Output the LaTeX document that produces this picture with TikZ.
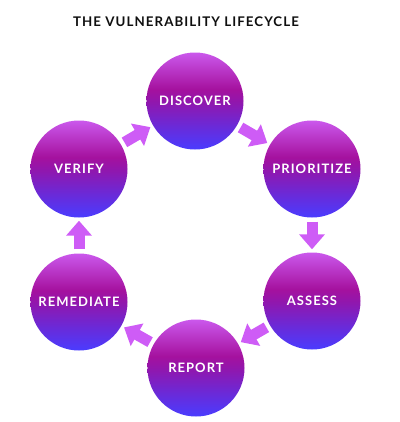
\documentclass[tikz,border=0pt]{standalone}
\usepackage{fontspec}
\usepackage{tikz}
\usetikzlibrary{arrows.meta, calc}
\newfontfamily\lato[LetterSpace=8]{Lato}

\definecolor{stageTop}{RGB}{203,88,236}
\definecolor{stageMid}{RGB}{165,17,158}
\definecolor{stageMidB}{RGB}{146,22,172}
\definecolor{stageLow}{RGB}{106,42,216}
\definecolor{stageBot}{RGB}{74,60,255}
\definecolor{arrowPink}{RGB}{206,92,246}
\definecolor{titleInk}{RGB}{15,15,15}

\pgfdeclareverticalshading{stagefill}{100bp}{color(0bp)=(stageBot); color(25bp)=(stageBot); color(37bp)=(stageLow); color(50bp)=(stageMidB); color(56bp)=(stageMid); color(75bp)=(stageTop); color(100bp)=(stageTop)}

\begin{document}
\begin{tikzpicture}[x=1bp, y=-1bp,
    stage/.style={circle, minimum size=97bp, inner sep=0pt, shading=stagefill,
        text=white, font=\lato\bfseries\fontsize{13bp}{15bp}\selectfont},
    flow/.style={arrowPink, line width=11bp,
        -{Triangle[length=15bp, width=25bp]}, shorten <=4bp, shorten >=3bp}]
    \useasboundingbox (0,0) rectangle (400,422);

    \node[titleInk, font=\lato\bfseries\fontsize{13.3bp}{15bp}\selectfont] (title) at (186, 22) {THE VULNERABILITY LIFECYCLE};

    \node[stage] (discover) at (195, 101) {DISCOVER};
    \node[stage] (prioritize) at (312, 169) {PRIORITIZE};
    \node[stage] (assess) at (312, 301) {ASSESS};
    \node[stage] (report) at (196, 368) {REPORT};
    \node[stage] (remediate) at (79, 302) {REMEDIATE};
    \node[stage] (verify) at (79, 169) {VERIFY};

    \draw
    (discover) edge[flow] (prioritize)
    (prioritize) edge[flow] (assess)
    (assess) edge[flow] (report)
    (report) edge[flow] (remediate)
    (remediate) edge[flow] (verify)
    (verify) edge[flow] (discover);
\end{tikzpicture}
\end{document}
